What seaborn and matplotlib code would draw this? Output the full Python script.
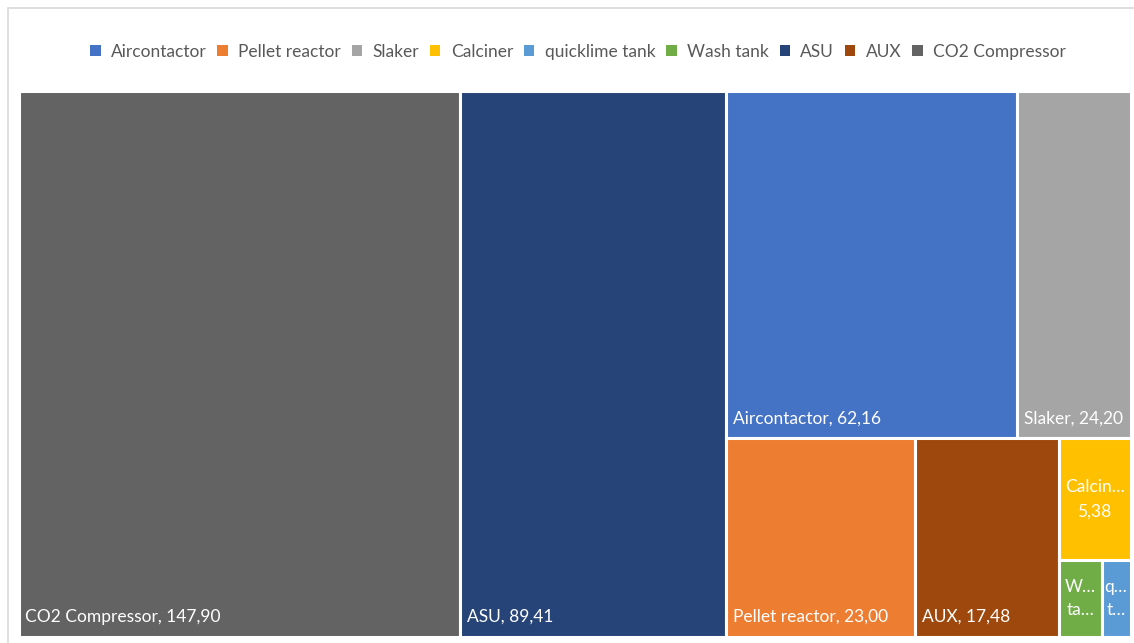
import matplotlib
matplotlib.use("Agg")
import matplotlib.pyplot as plt
from matplotlib.patches import Rectangle, Patch
import seaborn as sns

# Energy share per unit
names = ["CO2 Compressor", "ASU", "Aircontactor", "Slaker", "Pellet reactor",
         "AUX", "Calciner", "Wash tank", "quicklime tank"]
values = [147.90, 89.41, 62.16, 24.20, 23.00, 17.48, 5.38, 2.00, 1.35]
colors = ["#636363", "#264478", "#4472C4", "#A5A5A5", "#ED7D31",
          "#9E480E", "#FFC000", "#70AD47", "#5B9BD5"]
# Legend order
legend_order = ["Aircontactor", "Pellet reactor", "Slaker", "Calciner", "quicklime tank",
                "Wash tank", "ASU", "AUX", "CO2 Compressor"]
# Short labels for boxes too small for the full text
short_labels = {"Calciner": "Calcin…\n5,38", "Wash tank": "W…\nta…", "quicklime tank": "q…\nt…"}

val = dict(zip(names, values))
col = dict(zip(names, colors))

# Nested split structure: "h" splits side by side, "v" stacks top to bottom
tree = ("h", ["CO2 Compressor", "ASU",
              ("v", [("h", ["Aircontactor", "Slaker"]),
                     ("h", ["Pellet reactor", "AUX",
                            ("v", ["Calciner", ("h", ["Wash tank", "quicklime tank"])])])])])


def total(node):
    if isinstance(node, str):
        return val[node]
    return sum(total(c) for c in node[1])


def layout(node, x, y, w, h, out):
    if isinstance(node, str):
        out[node] = (x, y, w, h)
        return
    kind, children = node
    s = total(node)
    pos = 0.0
    for c in children:
        frac = total(c) / s
        if kind == "h":
            layout(c, x + pos * w, y, w * frac, h, out)
        else:
            layout(c, x, y + pos * h, w, h * frac, out)
        pos += frac


rects = {}
layout(tree, 0.0, 0.0, 1.0, 1.0, rects)

sns.set_theme(style="white")
plt.rcParams["font.family"] = ["Lato", "DejaVu Sans"]

fig = plt.figure(figsize=(11.34, 6.43), dpi=100)
fig.patch.set_facecolor("white")
ax = fig.add_axes([18.5 / 1134, 1 - 636.5 / 643, 1112 / 1134, 546 / 643])
ax.set_xlim(0, 1)
ax.set_ylim(1, 0)
ax.axis("off")

for n in names:
    x, y, w, h = rects[n]
    ax.bar(x, h, width=w, bottom=y, align="edge", color=col[n],
           edgecolor="white", linewidth=2.2)
    if n in short_labels:
        ax.text(x + w / 2, y + h / 2, short_labels[n], ha="center", va="center",
                color="white", fontsize=12.5, linespacing=1.6)
    else:
        label = f"{n}, {val[n]:.2f}".replace(".", ",")
        ax.annotate(label, xy=(x, y + h), xytext=(5, 14), textcoords="offset points",
                    ha="left", va="center", color="white", fontsize=12.5)

handles = [Patch(facecolor=col[n], edgecolor="none", label=n) for n in legend_order]
fig.legend(handles=handles, loc="center", bbox_to_anchor=(578 / 1134, 1 - 52 / 643), ncol=9,
           frameon=False, fontsize=12.5, handlelength=0.6, handleheight=0.6,
           handletextpad=0.6, columnspacing=0.62, labelcolor="#595959")

# Light chart frame
fig.add_artist(Rectangle((7.5 / 1134, -0.1), 1.2, 1.1 - 8.5 / 643, transform=fig.transFigure,
                         facecolor="none", edgecolor="#D9D9D9", linewidth=1.2))

fig.savefig("out.png", dpi=100)
